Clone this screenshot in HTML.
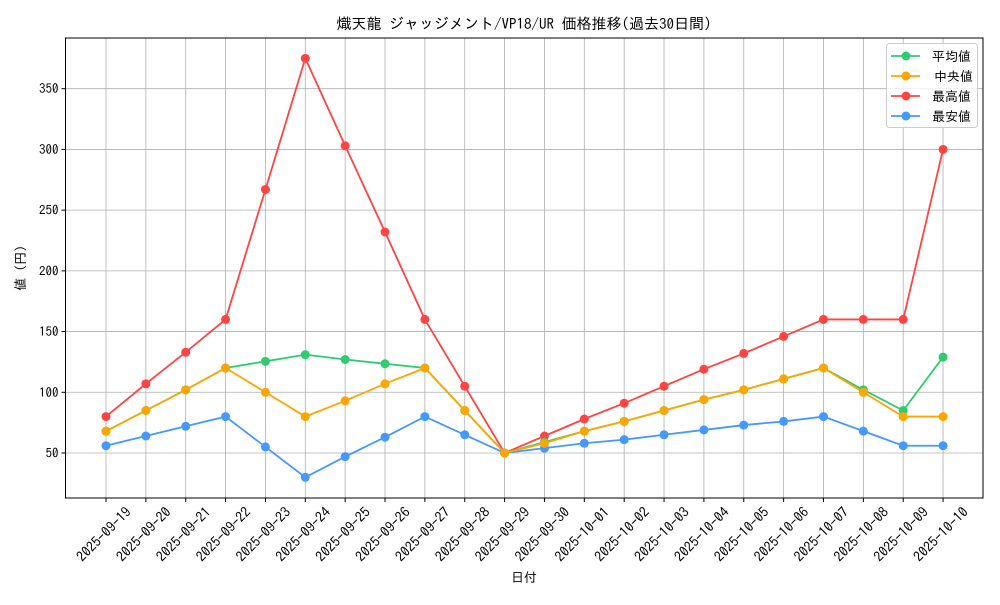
<!DOCTYPE html>
<html><head><meta charset="utf-8"><style>
body{margin:0;background:#fff;}
svg text{font-family:"IPAGothic","Liberation Sans","Noto Sans CJK JP",sans-serif;fill:#000;}
</style></head><body>
<svg id="s" width="1000" height="600" xmlns="http://www.w3.org/2000/svg"></svg>
<script>
const s=document.getElementById('s');
let h='';
const L=65.5,R=983,T=38,B=498;
const X=i=>106+i*39.86;
const Y=v=>453-(v-50)*1.2143;
const dates=[];
for(let d=19;d<=30;d++)dates.push('2025-09-'+d);
for(let d=1;d<=10;d++)dates.push('2025-10-'+(d<10?'0'+d:d));
dates.forEach((t,i)=>{h+=`<line x1="${X(i)}" y1="${T}" x2="${X(i)}" y2="${B}" stroke="#b0b0b0" stroke-width="0.8"/>`;
h+=`<line x1="${X(i)}" y1="${B}" x2="${X(i)}" y2="${B+4}" stroke="#000"/>`;
const tx=X(i)+26, ty=B+15;
h+=`<text x="${tx}" y="${ty}" font-size="14" text-anchor="end" transform="rotate(-45 ${tx} ${ty})">${t}</text>`;});
[50,100,150,200,250,300,350].forEach(v=>{h+=`<line x1="${L}" y1="${Y(v)}" x2="${R}" y2="${Y(v)}" stroke="#b0b0b0" stroke-width="0.8"/>`;
h+=`<line x1="${L-4}" y1="${Y(v)}" x2="${L}" y2="${Y(v)}" stroke="#000"/>`;
h+=`<text x="${L-7}" y="${Y(v)+4.5}" font-size="13" text-anchor="end">${v}</text>`;});
const S=[
['#ff4444',[80,107,133,160,267,375,303,232,160,105,50,64,78,91,105,119,132,146,160,160,160,300]],
['#4499ff',[56,64,72,80,55,30,47,63,80,65,50,54,58,61,65,69,73,76,80,68,56,56]],
['#2ecc71',[68,85,102,120,125.5,131,127,123.5,120,85,50,59,68,76,85,94,102,111,120,102,85,129]],
['#ffa500',[68,85,102,120,100,80,93,107,120,85,50,58,68,76,85,94,102,111,120,100,80,80]],
];
S.forEach(([c,d])=>{h+=`<polyline fill="none" stroke="${c}" stroke-width="1.8" points="${d.map((v,i)=>X(i)+','+Y(v)).join(' ')}"/>`;
d.forEach((v,i)=>h+=`<circle cx="${X(i)}" cy="${Y(v)}" r="4.5" fill="${c}"/>`);});
h+=`<rect x="${L}" y="${T}" width="${R-L}" height="${B-T}" fill="none" stroke="#000" stroke-width="1"/>`;
h+=`<text x="524" y="29" font-size="15" text-anchor="middle">熾天龍 ジャッジメント/VP18/UR 価格推移(過去30日間)</text>`;
h+=`<text x="524" y="582" font-size="13" text-anchor="middle">日付</text>`;
h+=`<text x="25" y="268" font-size="13" text-anchor="middle" transform="rotate(-90 25 268)">値 (円)</text>`;
h+=`<rect x="886.5" y="43.5" width="91" height="84" rx="3" fill="#fff" fill-opacity="0.8" stroke="#ccc"/>`;
[['#2ecc71','平均値'],['#ffa500','中央値'],['#ff4444','最高値'],['#4499ff','最安値']].forEach(([c,t],i)=>{const y=56+i*20;
h+=`<line x1="891" y1="${y}" x2="920" y2="${y}" stroke="${c}" stroke-width="1.8"/><circle cx="906" cy="${y}" r="4.5" fill="${c}"/>`;
h+=`<text x="${i==1?934:932}" y="${y+5}" font-size="13">${t}</text>`;});
s.innerHTML=h;
</script>
</body></html>
